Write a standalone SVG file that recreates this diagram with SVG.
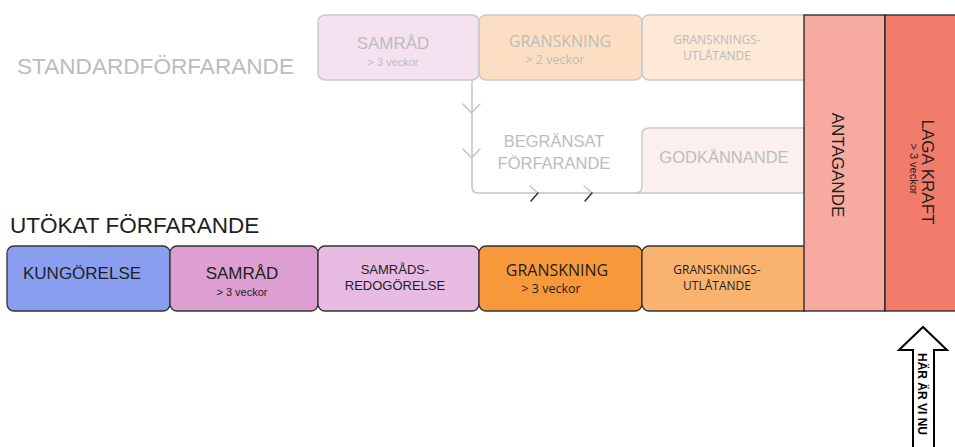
<svg xmlns="http://www.w3.org/2000/svg" width="955" height="447" viewBox="0 0 955 447">
<style>
.a{font-family:"Liberation Sans",Arial,sans-serif}
.o{font-family:"Open Sans","Liberation Sans",sans-serif}
.g{fill:#bcbcbc}
.k{fill:#1e1e1e}
.tb{stroke:#c9c9c9;stroke-width:1.5}
.bb{stroke:#333;stroke-width:1.3}
.c{fill:none;stroke:#c4c4c4;stroke-width:1.5;stroke-linecap:round;stroke-linejoin:round}
.m{text-anchor:middle}
</style>
<rect width="955" height="447" fill="#fff"/>
<text class="a g" x="17" y="74" font-size="22.6">STANDARDFÖRFARANDE</text>
<text class="a k" x="10" y="233" font-size="22.5">UTÖKAT FÖRFARANDE</text>

<g id="connectors">
<path class="c" d="M472 80 V187 Q472 193 478 193 H642"/>
<path class="c" d="M463 104 L471.5 113 L480 104 M463 149 L471.5 158 L480 149"/>
<path class="c" d="M530 186 L538 193 M584 186 L592 193"/>
<path d="M538 193 L531 201 M592 193 L585 201" fill="none" stroke="#333" stroke-width="1.5" stroke-linecap="round"/>
</g>

<g id="std-samrad">
<rect class="tb" x="318" y="15" width="161" height="65" rx="7" fill="#f4e2f1"/>
<text class="a g m" x="393" y="49" font-size="17">SAMRÅD</text>
<text class="a g m" x="393" y="66" font-size="11">&gt; 3 veckor</text>
</g>
<g id="std-granskning">
<rect class="tb" x="479" y="15" width="163" height="65" rx="7" fill="#fcdfc3"/>
<text class="o g m" x="560" y="47" font-size="16">GRANSKNING</text>
<text class="o g m" x="555" y="64" font-size="12.5">&gt; 2 veckor</text>
</g>
<g id="std-utlatande">
<rect class="tb" x="642" y="15" width="168" height="65" rx="7" fill="#fde9d6"/>
<text class="o g m" x="717" y="44" font-size="12">GRANSKNINGS-</text>
<text class="o g m" x="717" y="60" font-size="12">UTLÅTANDE</text>
</g>
<g id="begransat">
<text class="a g m" x="554" y="147" font-size="16.5">BEGRÄNSAT</text>
<text class="a g m" x="554" y="169" font-size="16.5">FÖRFARANDE</text>
</g>
<g id="godkannande">
<path class="tb" d="M804 128 H649 Q642 128 642 135 V186 Q642 193 635 193 H804 Z" fill="#fcf0ee"/>
<text class="a g m" x="724" y="163" font-size="16.5">GODKÄNNANDE</text>
</g>

<g id="kungorelse">
<rect class="bb" x="7" y="246" width="163" height="65" rx="7" fill="#8a9ef0"/>
<text class="a k" x="23" y="279" font-size="17">KUNGÖRELSE</text>
</g>
<g id="samrad">
<rect class="bb" x="170" y="246" width="148" height="65" rx="7" fill="#dd9ed2"/>
<text class="a k m" x="242" y="279" font-size="17">SAMRÅD</text>
<text class="a k m" x="242" y="296" font-size="11">&gt; 3 veckor</text>
</g>
<g id="samradsredogorelse">
<rect class="bb" x="318" y="246" width="161" height="65" rx="7" fill="#e8bbe2"/>
<text class="a k m" x="395" y="274" font-size="13">SAMRÅDS-</text>
<text class="a k m" x="395" y="290" font-size="13">REDOGÖRELSE</text>
</g>
<g id="granskning">
<rect class="bb" x="479" y="246" width="163" height="65" rx="7" fill="#f7993b"/>
<text class="o k m" x="557" y="276" font-size="16">GRANSKNING</text>
<text class="o k m" x="551" y="293" font-size="12.5">&gt; 3 veckor</text>
</g>
<g id="utlatande">
<rect class="bb" x="642" y="246" width="168" height="65" rx="7" fill="#f9b36f"/>
<text class="o k m" x="717" y="274" font-size="12">GRANSKNINGS-</text>
<text class="o k m" x="717" y="290" font-size="12">UTLÅTANDE</text>
</g>

<g id="antagande">
<rect x="804" y="15" width="81" height="296" fill="#f6aaa0" stroke="#222" stroke-width="1.3"/>
<text class="a k m" transform="translate(832,165) rotate(90)" font-size="17">ANTAGANDE</text>
</g>
<g id="laga-kraft">
<rect x="885" y="15" width="75" height="296" fill="#f27c6b" stroke="#222" stroke-width="1.3"/>
<text class="a k m" transform="translate(922,172) rotate(90)" font-size="17">LAGA KRAFT</text>
<text class="a k m" transform="translate(910,169) rotate(90)" font-size="11">&gt; 3 veckor</text>
</g>

<g id="har-ar-vi-nu">
<path d="M913 450 V350 H899 L923 327 L947 350 H934 V450" fill="#fff" stroke="#000" stroke-width="2"/>
<text class="a m" transform="translate(918,394) rotate(90)" font-size="12" font-weight="bold" fill="#000">HÄR ÄR VI NU</text>
</g>
</svg>
